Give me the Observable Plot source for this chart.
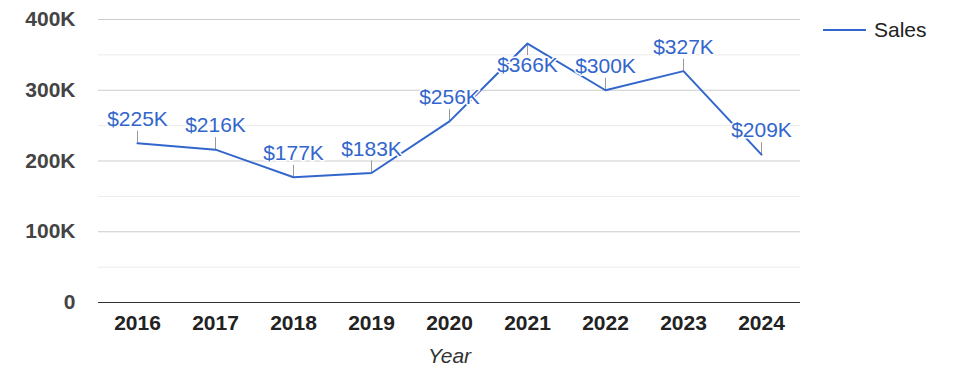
<!DOCTYPE html>
<html>
<head>
<meta charset="utf-8">
<script src="https://cdn.jsdelivr.net/npm/d3@7"></script>
<script src="https://cdn.jsdelivr.net/npm/@observablehq/plot@0.6"></script>
<style>
  body { margin: 0; background: #fff; font-family: "Liberation Sans", Arial, sans-serif; }
  #wrap { position: relative; width: 975px; height: 378px; }
  #legend { position: absolute; left: 823px; top: 18px; display: flex; align-items: center; font-size: 21px; color: #222; }
</style>
</head>
<body>
<div id="wrap">
  <div id="chart"></div>
  <div id="legend"><svg width="43" height="4"><line x1="0" x2="43" y1="2" y2="2" stroke="#3366cc" stroke-width="2"/></svg><span style="margin-left:8px">Sales</span></div>
</div>
<script>
const years = ["2016","2017","2018","2019","2020","2021","2022","2023","2024"];
const sales = [225000, 216000, 177000, 183000, 256000, 366000, 300000, 327000, 209000];
const yTicks = [0, 100000, 200000, 300000, 400000];
const yMinor = [50000, 150000, 250000, 350000];
const seriesName = "Sales";
const xTitle = "Year";

const W = 975, H = 378;
const mL = 98, mR = 175, mT = 19, mB = 76;
const plotH = H - mT - mB;
const unitsPerPx = 400000 / plotH;
const maxV = d3.max(sales);

const data = years.map((y, i) => ({ year: y, value: sales[i], below: sales[i] === maxV }));
const blue = "#3366cc";
const fmt = v => "$" + Math.round(v / 1000) + "K";

const chart = Plot.plot({
  width: W, height: H,
  marginLeft: mL, marginRight: mR, marginTop: mT, marginBottom: mB,
  style: { fontFamily: "'Liberation Sans', Arial, sans-serif", background: "#fff" },
  x: { type: "point", domain: years, padding: 0.5 },
  y: { domain: [0, 400000] },
  marks: [
    Plot.ruleY(yMinor, { stroke: "#ebebeb", strokeOpacity: 1 }),
    Plot.ruleY(yTicks.slice(1), { stroke: "#cccccc", strokeOpacity: 1 }),
    Plot.ruleY([0], { stroke: "#333", strokeOpacity: 1 }),
    Plot.axisY({ ticks: yTicks, tickSize: 0, tickPadding: 23, fontSize: 21, fontWeight: "bold", fill: "#444",
      tickFormat: d => d === 0 ? "0" : (d / 1000) + "K", label: null }),
    Plot.axisX({ tickSize: 0, tickPadding: 13, fontSize: 21, fontWeight: "bold", fill: "#222", label: null }),
    Plot.text([xTitle], { frameAnchor: "bottom", lineAnchor: "middle", dy: 54, fontSize: 21, fontStyle: "italic", fill: "#333" }),
    Plot.ruleX(data, { x: "year", y1: "value", y2: d => d.value + (d.below ? -12 : 12) * unitsPerPx, stroke: "#999", strokeWidth: 1 }),
    Plot.line(data, { x: "year", y: "value", stroke: blue, strokeWidth: 2 }),
    Plot.text(data.filter(d => !d.below), { x: "year", y: "value", text: d => fmt(d.value), dy: -24, fontSize: 21, fill: blue, stroke: "white", strokeWidth: 3, paintOrder: "stroke" }),
    Plot.text(data.filter(d => d.below), { x: "year", y: "value", text: d => fmt(d.value), dy: 22, fontSize: 21, fill: blue, stroke: "white", strokeWidth: 3, paintOrder: "stroke" })
  ]
});
document.getElementById("chart").appendChild(chart);
</script>
</body>
</html>
